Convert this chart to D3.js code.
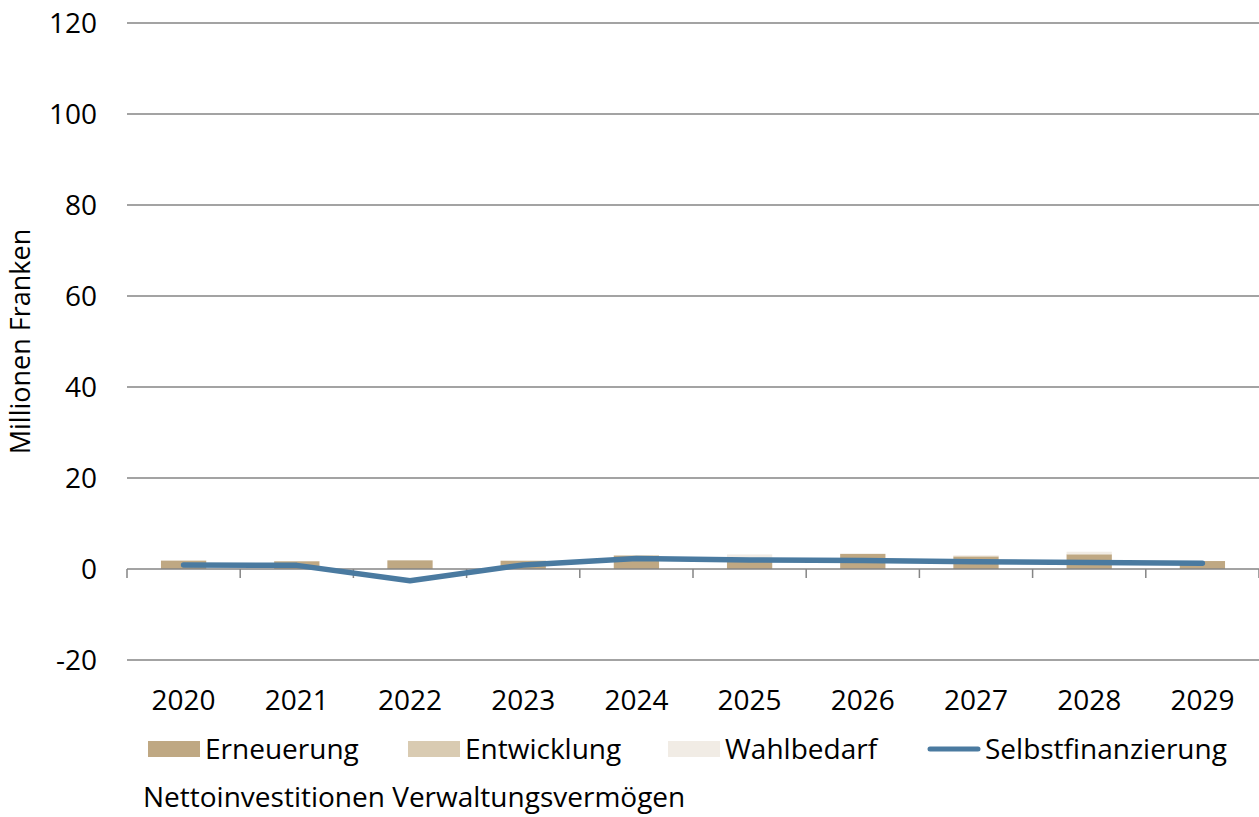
<!DOCTYPE html>
<html>
<head>
<meta charset="utf-8">
<script src="https://cdn.jsdelivr.net/npm/d3@7"></script>
<style>
  body { margin: 0; background: #fff; }
  text { font-family: "Open Sans", Lato, sans-serif; fill: #000; }
</style>
</head>
<body>
<svg id="chart" width="1259" height="817"></svg>
<script>
// values in Mio. Franken
var years = ["2020", "2021", "2022", "2023", "2024", "2025", "2026", "2027", "2028", "2029"];
var erneuerung = [1.8, 1.7, 1.9, 1.8, 2.9, 2.4, 3.3, 2.7, 3.2, 1.75];
var entwicklung = [0.1, 0.05, 0.0, 0.05, 0.15, 0.1, 0.0, 0.2, 0.1, 0.0];
var wahlbedarf = [0.0, 0.0, 0.0, 0.0, 0.0, 0.7, 0.15, 0.1, 0.5, 0.0];
var selbstfinanzierung = [0.9, 0.8, -2.6, 0.9, 2.3, 2.0, 1.85, 1.6, 1.45, 1.25];
var yTicks = [-20, 0, 20, 40, 60, 80, 100, 120];

var seriesNames = ["Erneuerung", "Entwicklung", "Wahlbedarf"];
var colors = { Erneuerung: "#bfa883", Entwicklung: "#d9cbb2", Wahlbedarf: "#f1ece5", Selbstfinanzierung: "#4a7aa0" };

var svg = d3.select("#chart"),
  margin = { top: 23, right: 0, bottom: 157, left: 127 },
  width = +svg.attr("width") - margin.left - margin.right,
  height = +svg.attr("height") - margin.top - margin.bottom,
  g = svg.append("g").attr("transform", "translate(" + margin.left + "," + margin.top + ")");

var rows = years.map((y, i) => ({ year: y, Erneuerung: erneuerung[i], Entwicklung: entwicklung[i], Wahlbedarf: wahlbedarf[i] }));

var x = d3.scaleBand()
  .domain(years)
  .range([0, width])
  .paddingInner(0.6)
  .paddingOuter(0.3);

var y = d3.scaleLinear()
  .domain([-20, 120])
  .range([height, 0]);

// gridlines
g.append("g")
  .selectAll("line")
  .data(yTicks.filter(d => d !== 0))
  .enter().append("line")
    .attr("x1", 0)
    .attr("x2", width)
    .attr("y1", d => y(d))
    .attr("y2", d => y(d))
    .attr("stroke", "#858585")
    .attr("stroke-width", 1.3);

// y labels
g.append("g")
  .selectAll("text")
  .data(yTicks)
  .enter().append("text")
    .attr("x", -30)
    .attr("y", d => y(d))
    .attr("dy", "0.35em")
    .attr("text-anchor", "end")
    .style("font-size", "28px")
    .text(d => d);

svg.append("text")
  .attr("transform", "translate(30," + (margin.top + y(50)) + ") rotate(-90)")
  .attr("text-anchor", "middle")
  .style("font-size", "27px")
  .text("Millionen Franken");

// stacked bars
var stack = d3.stack().keys(seriesNames);
g.append("g")
  .selectAll("g")
  .data(stack(rows))
  .enter().append("g")
    .attr("fill", d => colors[d.key])
  .selectAll("rect")
  .data(d => d)
  .enter().append("rect")
    .attr("x", d => x(d.data.year))
    .attr("width", x.bandwidth())
    .attr("y", d => y(d[1]))
    .attr("height", d => y(d[0]) - y(d[1]));

// x axis at zero with ticks between categories
var axis = g.append("g").attr("transform", "translate(0," + y(0) + ")");
axis.append("line")
  .attr("x1", 0).attr("x2", width)
  .attr("stroke", "#858585").attr("stroke-width", 1.5);
axis.selectAll(".tick")
  .data(d3.range(years.length + 1))
  .enter().append("line")
    .attr("x1", i => i * x.step())
    .attr("x2", i => i * x.step())
    .attr("y1", 0).attr("y2", 9)
    .attr("stroke", "#858585").attr("stroke-width", 1.5);

g.append("g")
  .selectAll("text")
  .data(years)
  .enter().append("text")
    .attr("x", d => x(d) + x.bandwidth() / 2)
    .attr("y", y(-20) + 40)
    .attr("dy", "0.35em")
    .attr("text-anchor", "middle")
    .style("font-size", "28px")
    .text(d => d);

// line
var line = d3.line()
  .x((d, i) => x(years[i]) + x.bandwidth() / 2)
  .y(d => y(d));

g.append("path")
  .attr("fill", "none")
  .attr("stroke", colors.Selbstfinanzierung)
  .attr("stroke-width", 5.5)
  .attr("stroke-linejoin", "round")
  .attr("stroke-linecap", "round")
  .attr("d", line(selbstfinanzierung));

// legend
var legend = svg.append("g");
var legendItems = [
  { name: "Erneuerung", x: 148 },
  { name: "Entwicklung", x: 408 },
  { name: "Wahlbedarf", x: 668 }
];
legendItems.forEach(function(it) {
  legend.append("rect")
    .attr("x", it.x).attr("y", 741)
    .attr("width", 52).attr("height", 16)
    .attr("fill", colors[it.name]);
  legend.append("text")
    .attr("x", it.x + 57).attr("y", 749)
    .attr("dy", "0.35em")
    .style("font-size", "28px")
    .text(it.name);
});
legend.append("line")
  .attr("x1", 930).attr("x2", 978)
  .attr("y1", 749).attr("y2", 749)
  .attr("stroke", colors.Selbstfinanzierung)
  .attr("stroke-width", 5)
  .attr("stroke-linecap", "round");
legend.append("text")
  .attr("x", 985).attr("y", 749)
  .attr("dy", "0.35em")
  .style("font-size", "28px")
  .text("Selbstfinanzierung");

legend.append("text")
  .attr("x", 143).attr("y", 797)
  .attr("dy", "0.35em")
  .style("font-size", "28px")
  .text("Nettoinvestitionen Verwaltungsvermögen");
</script>
</body>
</html>
